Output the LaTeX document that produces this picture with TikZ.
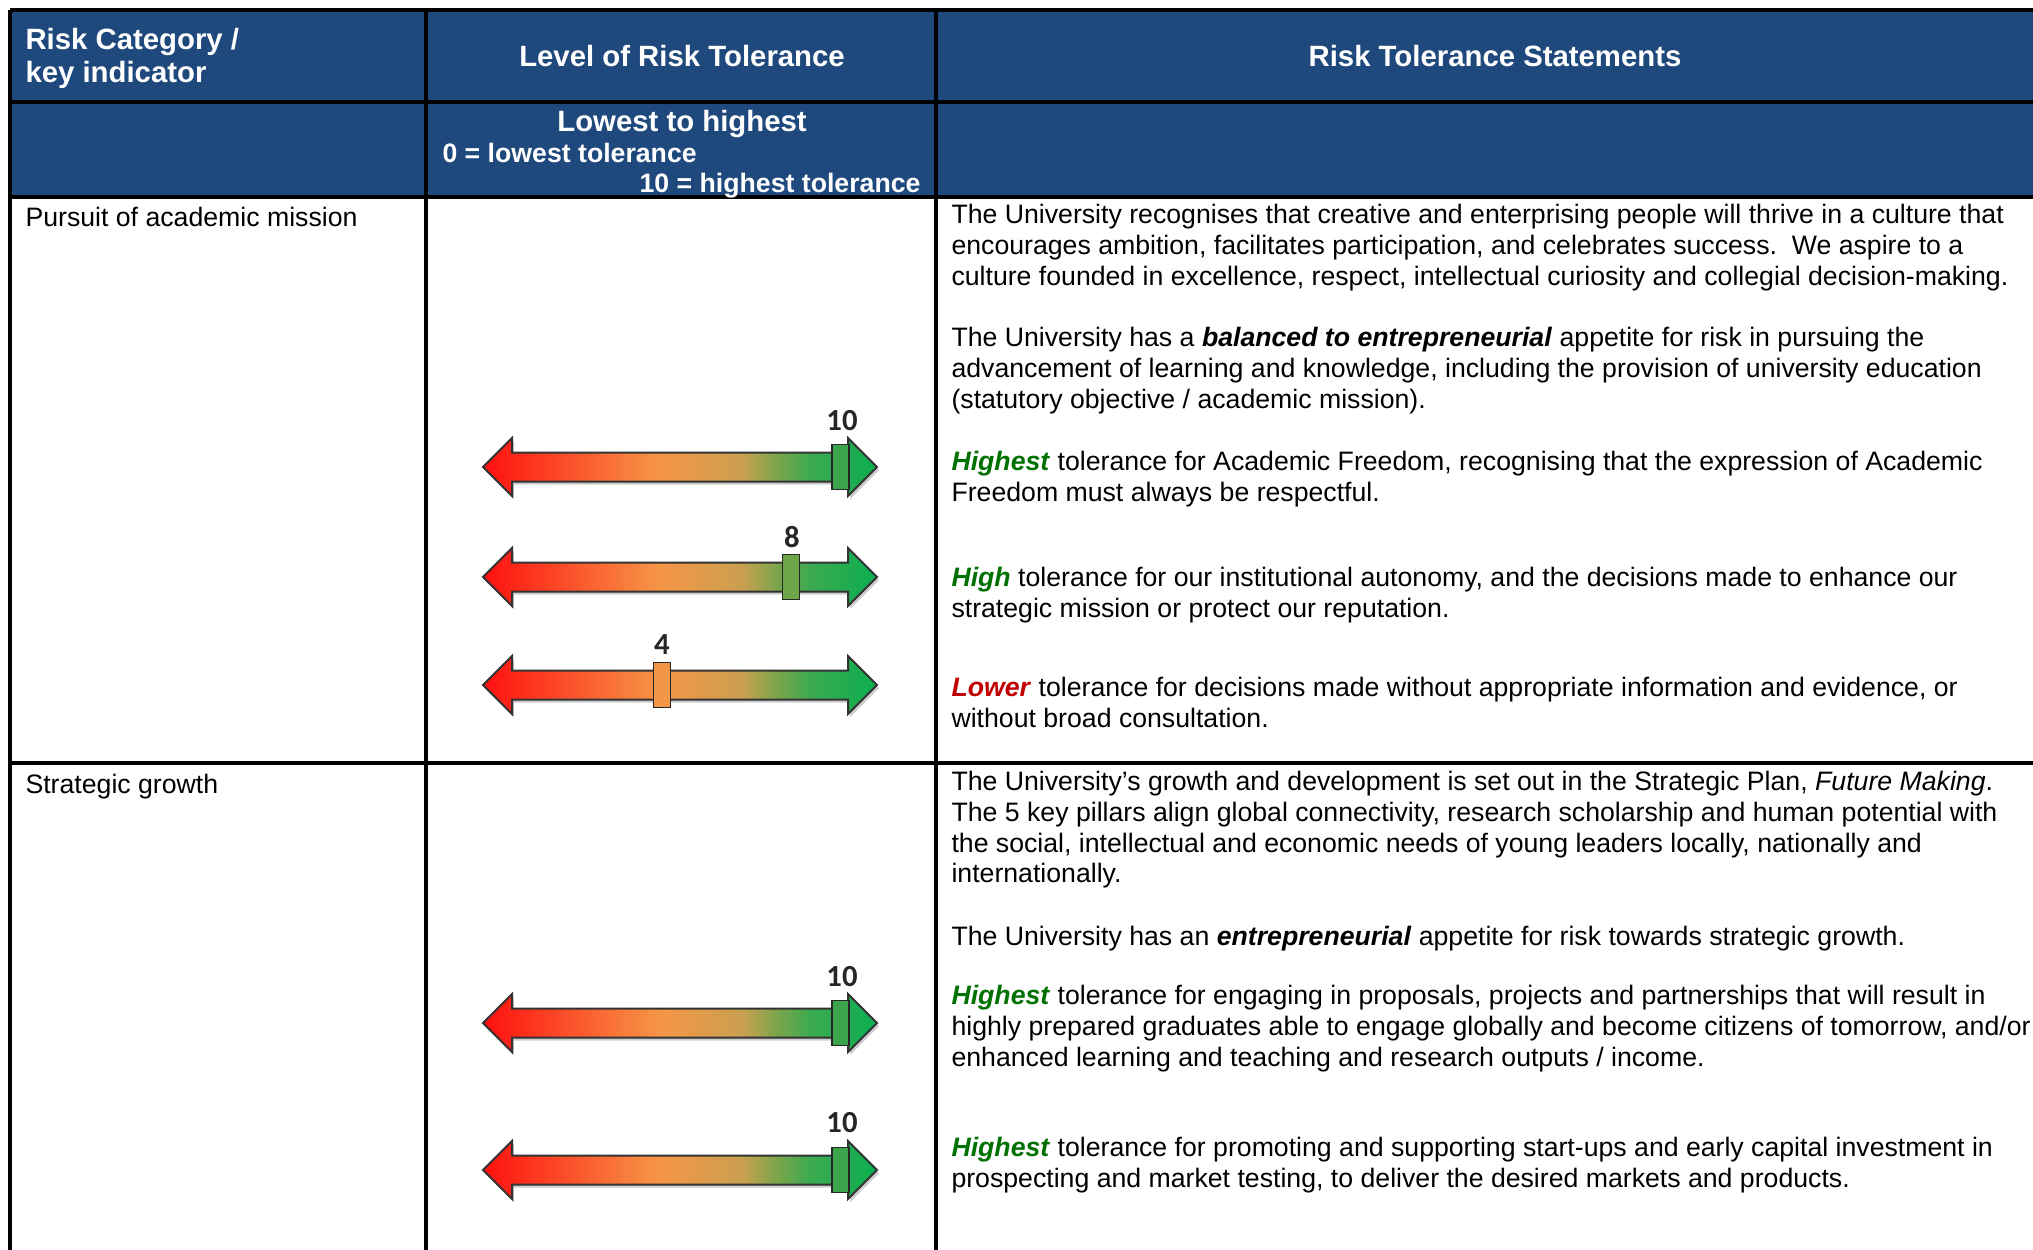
\documentclass[tikz,border=0pt]{standalone}
\usepackage{fontspec}
\setmainfont{Liberation Sans}
\newfontfamily\numfont{Carlito}
\usepackage{tikz}
\usetikzlibrary{positioning}

\definecolor{headblue}{RGB}{31,73,125}
\definecolor{hgreen}{RGB}{0,112,0}
\definecolor{lred}{RGB}{192,0,0}
\definecolor{gradred}{RGB}{255,15,15}
\definecolor{gradro}{RGB}{250,100,50}
\definecolor{gradorange}{RGB}{245,150,70}
\definecolor{gradtan}{RGB}{200,160,80}
\definecolor{gradolive}{RGB}{120,165,75}
\definecolor{gradgreen}{RGB}{60,170,80}
\definecolor{gradend}{RGB}{10,175,80}
\definecolor{mkgreen}{RGB}{60,165,75}
\definecolor{mkolive}{RGB}{110,165,72}
\definecolor{mkorange}{RGB}{242,150,72}

\pgfdeclarehorizontalshading{riskgrad}{100bp}{color(0bp)=(gradred); color(25bp)=(gradred); color(39bp)=(gradro); color(47.5bp)=(gradorange); color(58bp)=(gradtan); color(62.5bp)=(gradolive); color(66.5bp)=(gradgreen); color(75bp)=(gradend); color(100bp)=(gradend)}

\tikzset{
  grid/.style={black, line width=1.25pt},
  headtxt/.style={text=white, inner sep=0pt, font=\bfseries\fontsize{11}{12.4}\selectfont},
  subtxt/.style={text=white, inner sep=0pt, font=\bfseries\fontsize{10}{11.5}\selectfont},
  body/.style={inner sep=0pt, anchor=north west, align=left, font=\fontsize{10}{11.5}\selectfont, execute at begin node=\strut},
  marker/.style={draw=black!85, line width=0.55pt, minimum width=6.4pt, minimum height=16.9pt, inner sep=0pt},
  num/.style={text=black!85, inner sep=0pt, font=\numfont\bfseries\fontsize{11.5}{13}\selectfont},
  riskbar/.pic={
    \fill [black!20] (-195,3) -- (-166,-26) -- (-166,-11.5) -- (170,-11.5) -- (170,-26) -- (199,3) -- (170,32) -- (170,17.5) -- (-166,17.5) -- (-166,32) -- cycle;
    \shadedraw [shading=riskgrad, draw=black!80, line width=0.75pt] (-197,0) -- (-168,-29) -- (-168,-14.5) -- (168,-14.5) -- (168,-29) -- (197,0) -- (168,29) -- (168,14.5) -- (-168,14.5) -- (-168,29) -- cycle;
  },
}

\newcommand{\hi}[1]{{\color{hgreen}\textbf{\textit{#1}}}}

\begin{document}
\begin{tikzpicture}[x=0.375pt, y=-0.375pt]
\useasboundingbox (0,0) rectangle (2033,1249);
\clip (0,0) rectangle (2033,1249);
\fill [headblue] (10,10) rectangle (2045,197);
\draw [grid] (10,10) -- (2045,10);
\draw [grid] (10,102) -- (2045,102);
\draw [grid] (10,197) -- (2045,197);
\draw [grid] (10,763) -- (2045,763);
\draw [grid] (10,10) -- (10,1260);
\draw [grid] (426,10) -- (426,1260);
\draw [grid] (936,10) -- (936,1260);

\node [headtxt, anchor=north west, align=left, execute at begin node=\strut] (hcat) at (25,28) {Risk Category /\\key indicator};
\node [headtxt, anchor=base] (hlevel) at (682,66.5) {Level of Risk Tolerance};
\node [headtxt, anchor=base] (hstmt) at (1495,66.5) {Risk Tolerance Statements};
\node [headtxt, anchor=base] (hlow) at (682,131.5) {Lowest to highest};
\node [subtxt, anchor=base west] (hzero) at (442,162.5) {0 = lowest tolerance};
\node [subtxt, anchor=base east] (hten) at (921,192.5) {10 = highest tolerance};

\node [body] (mission) at (25,204) {Pursuit of academic mission};
\node [body] (growth) at (25,771) {Strategic growth};

\node [body] (s1) at (951,204) {The University recognises that creative and enterprising people will thrive in a culture that\\encourages ambition, facilitates participation, and celebrates success.\ \ We aspire to a\\culture founded in excellence, respect, intellectual curiosity and collegial decision-making.};
\node [body] (s2) at (951,327) {The University has a \textbf{\textit{balanced to entrepreneurial}} appetite for risk in pursuing the\\advancement of learning and knowledge, including the provision of university education\\(statutory objective / academic mission).};
\node [body] (s3) at (951,451) {\hi{Highest} tolerance for Academic Freedom, recognising that the expression of Academic\\Freedom must always be respectful.};
\node [body] (s4) at (951,567) {\hi{High} tolerance for our institutional autonomy, and the decisions made to enhance our\\strategic mission or protect our reputation.};
\node [body] (s5) at (951,677) {{\color{lred}\textbf{\textit{Lower}}} tolerance for decisions made without appropriate information and evidence, or\\without broad consultation.};

\node [body] (g1) at (951,771) {The University’s growth and development is set out in the Strategic Plan, \textit{Future Making}.\\The 5 key pillars align global connectivity, research scholarship and human potential with\\the social, intellectual and economic needs of young leaders locally, nationally and\\internationally.};
\node [body] (g2) at (951,923) {The University has an \textbf{\textit{entrepreneurial}} appetite for risk towards strategic growth.};
\node [body] (g3) at (951,985) {\hi{Highest} tolerance for engaging in proposals, projects and partnerships that will result in\\highly prepared graduates able to engage globally and become citizens of tomorrow, and/or\\enhanced learning and teaching and research outputs / income.};
\node [body] (g4) at (951,1137) {\hi{Highest} tolerance for promoting and supporting start-ups and early capital investment in\\prospecting and market testing, to deliver the desired markets and products.};

\pic at (680,467) {riskbar};
\pic at (680,577) {riskbar};
\pic at (680,685) {riskbar};
\pic at (680,1023) {riskbar};
\pic at (680,1170) {riskbar};

\node [marker, fill=mkgreen] (m1) at (840.5,467) {};
\node [marker, fill=mkolive] (m2) at (791,577) {};
\node [marker, fill=mkorange] (m3) at (662,685) {};
\node [marker, fill=mkgreen] (m4) at (840.5,1023) {};
\node [marker, fill=mkgreen] (m5) at (840.5,1170) {};

\node [num] (n1) at (842,421) {10};
\node [num] (n2) at (792,537) {8};
\node [num] (n3) at (662,645) {4};
\node [num] (n4) at (842,977) {10};
\node [num] (n5) at (842,1123) {10};
\end{tikzpicture}
\end{document}
